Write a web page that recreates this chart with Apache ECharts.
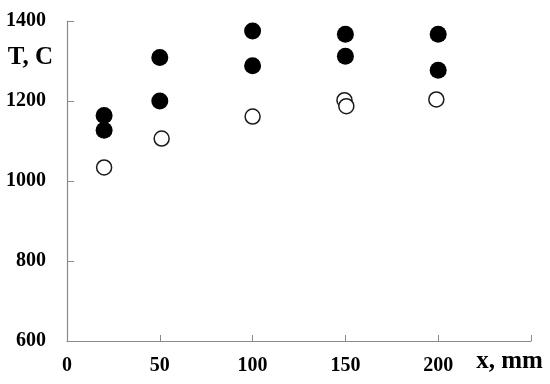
<!DOCTYPE html>
<html>
<head>
<meta charset="utf-8">
<script src="https://cdn.jsdelivr.net/npm/echarts@6/dist/echarts.min.js"></script>
<style>html,body{margin:0;padding:0;background:#fff;}#c{width:550px;height:384px;}</style>
</head>
<body>
<div id="c"></div>
<script>
var xTicks = [0, 50, 100, 150, 200];
var yTicks = [600, 800, 1000, 1200, 1400];
var xFilled = [20, 20, 50, 50, 100, 100, 150, 150, 200, 200];
var yFilled = [1164, 1127, 1309, 1200, 1375, 1288, 1367, 1312, 1367, 1277];
var xOpen = [20, 51, 100, 149.5, 150.5, 199];
var yOpen = [1034, 1106, 1161, 1202, 1187, 1204];

function pairs(xs, ys) { return xs.map(function (x, i) { return [x, ys[i]]; }); }

var font = '"Liberation Serif", "Times New Roman", serif';
var chart = echarts.init(document.getElementById('c'), null, { renderer: 'canvas' });
chart.setOption({
  animation: false,
  backgroundColor: '#fff',
  grid: { left: 67, right: 19, top: 21, bottom: 43 },
  xAxis: {
    type: 'value', min: 0, max: 250, interval: 50,
    name: 'x, mm', nameLocation: 'end', nameGap: -21.5, nameMoveOverlap: false,
    nameTextStyle: { fontFamily: font, fontWeight: 'bold', fontSize: 25, color: '#000', align: 'center', verticalAlign: 'top', padding: [8, 0, 0, 0] },
    splitLine: { show: false },
    axisLine: { lineStyle: { color: '#8a8a8a', width: 1.2 } },
    axisTick: { inside: true, length: 6, lineStyle: { color: '#8a8a8a' } },
    axisLabel: {
      fontFamily: font, fontWeight: 'bold', fontSize: 20, color: '#000', margin: 15,
      formatter: function (v) { return xTicks.indexOf(v) >= 0 ? String(v) : ''; }
    }
  },
  yAxis: {
    type: 'value', min: 600, max: 1400, interval: 200,
    name: 'T, C', nameLocation: 'end', nameGap: -37, nameMoveOverlap: false,
    nameTextStyle: { fontFamily: font, fontWeight: 'bold', fontSize: 25, color: '#000', align: 'right', verticalAlign: 'middle', padding: [0, 14, 0, 0] },
    splitLine: { show: false },
    axisLine: { show: true, lineStyle: { color: '#8a8a8a', width: 1.2 } },
    axisTick: { show: true, inside: true, length: 7, lineStyle: { color: '#8a8a8a' } },
    axisLabel: {
      fontFamily: font, fontWeight: 'bold', fontSize: 20, color: '#000', margin: 21,
      formatter: function (v) { return yTicks.indexOf(v) >= 0 ? String(v) : ''; }
    }
  },
  series: [
    {
      type: 'scatter', data: pairs(xOpen, yOpen), symbol: 'circle', symbolSize: 15,
      itemStyle: { color: '#fff', borderColor: '#1a1a1a', borderWidth: 1.5, opacity: 1 }
    },
    {
      type: 'scatter', data: pairs(xFilled, yFilled), symbol: 'circle', symbolSize: 17,
      itemStyle: { color: '#000', opacity: 1 }
    }
  ]
});
</script>
</body>
</html>
